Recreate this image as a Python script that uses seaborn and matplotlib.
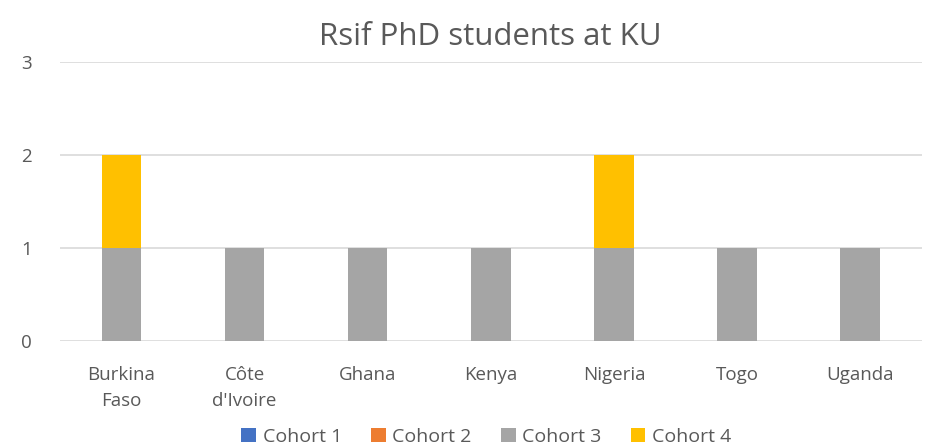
import matplotlib
matplotlib.use("Agg")
import matplotlib.pyplot as plt
import seaborn as sns
import numpy as np
from matplotlib.patches import Patch

countries = ["Burkina\nFaso", "Côte\nd'Ivoire", "Ghana", "Kenya", "Nigeria", "Togo", "Uganda"]
cohort_1 = [0, 0, 0, 0, 0, 0, 0]
cohort_2 = [0, 0, 0, 0, 0, 0, 0]
cohort_3 = [1, 1, 1, 1, 1, 1, 1]
cohort_4 = [1, 0, 0, 0, 1, 0, 0]

cohorts = ["Cohort 1", "Cohort 2", "Cohort 3", "Cohort 4"]
colors = ["#4472C4", "#ED7D31", "#A5A5A5", "#FFC000"]

sns.set_style("white")
plt.rcParams["font.family"] = ["Open Sans", "DejaVu Sans"]

fig = plt.figure(figsize=(9.3, 4.48), dpi=100)
ax = fig.add_axes([0.0645, 0.239, 0.9265, 0.6225])

series = [cohort_1, cohort_2, cohort_3, cohort_4]
cum = np.cumsum(np.array(series), axis=0)

# stacked bars: draw the tallest cumulative first, then cover it
for i in range(len(series) - 1, -1, -1):
    sns.barplot(x=countries, y=cum[i], color=colors[i], width=0.32,
                saturation=1, linewidth=0, ax=ax, zorder=2)

ax.set_ylim(0, 3)
ax.set_yticks([0, 1, 2, 3])
ax.set_xlim(-0.5, len(countries) - 0.5)
ax.yaxis.grid(True, color="#d9d9d9", linewidth=1.2, zorder=0)
ax.set_axisbelow(True)
for s in ax.spines.values():
    s.set_visible(False)
ax.tick_params(axis="both", length=0, labelsize=13.5, colors="#595959")
ax.tick_params(axis="x", pad=18)
ax.tick_params(axis="y", pad=20)
for lbl in ax.get_xticklabels():
    lbl.set_linespacing(1.55)
ax.set_xlabel("")
ax.set_ylabel("")
ax.set_title("Rsif PhD students at KU", fontsize=22.5, color="#595959", pad=12)

handles = [Patch(facecolor=c, edgecolor="none") for c in colors]
fig.legend(handles, cohorts, loc="center", bbox_to_anchor=(0.523, 0.025), ncol=4,
           frameon=False, fontsize=14, handlelength=0.75, handleheight=0.75,
           handletextpad=0.35, columnspacing=1.5, labelcolor="#595959")

fig.savefig("out.png", dpi=100)
